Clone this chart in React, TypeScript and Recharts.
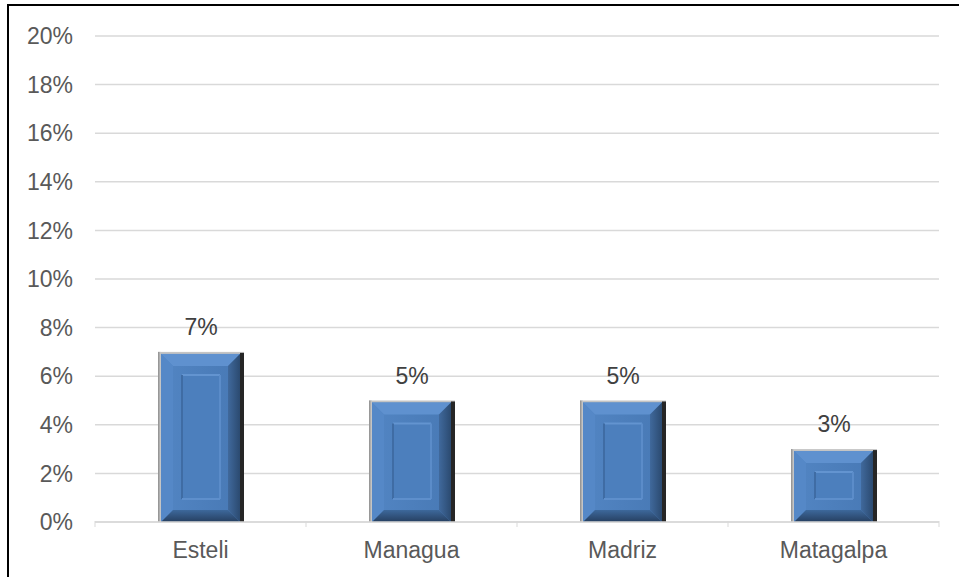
import React from "react";
import {
  BarChart,
  Bar,
  XAxis,
  YAxis,
  CartesianGrid,
  LabelList,
} from "recharts";

const departments = ["Esteli", "Managua", "Madriz", "Matagalpa"];
const shares = [7, 5, 5, 3];
const yTicks = [0, 2, 4, 6, 8, 10, 12, 14, 16, 18, 20];

const data = departments.map((name, i) => ({ name, value: shares[i] }));

const FONT = '"Liberation Sans", Arial, sans-serif';
const CHART_W = 959;
const CHART_H = 577;
const MARGIN = { top: 36, right: 20, bottom: 25, left: 8 };
const Y_AXIS_W = 87;
const BAND =
  (CHART_W - MARGIN.left - MARGIN.right - Y_AXIS_W) / departments.length;

// bevelled "picture frame" bar
const BevelBar = (props: any) => {
  const { x, y, width, height, index } = props;
  if (!height || height <= 0) return null;
  const gid = `bev-${index}`;
  const bx = x + 3;
  const by = y + 2;
  const bw = width - 7;
  const bh = height - 2;
  const b = 12;
  const ins = 24;
  const px = x + ins;
  const py = y + 23;
  const pw = width - ins * 2;
  const ph = Math.max(height - 46, 0);
  return (
    <g>
      <defs>
        <linearGradient id={`${gid}-body`} x1="0" y1="0" x2="1" y2="0">
          <stop offset="0" stopColor="#5285c3" />
          <stop offset="1" stopColor="#4879b5" />
        </linearGradient>
        <linearGradient id={`${gid}-edge`} x1="0" y1="0" x2="1" y2="0">
          <stop offset="0" stopColor="#8c8c8c" />
          <stop offset="1" stopColor="#d0d0d0" />
        </linearGradient>
        <linearGradient id={`${gid}-bot`} x1="0" y1="0" x2="0" y2="1">
          <stop offset="0" stopColor="#3d689b" />
          <stop offset="1" stopColor="#263f60" />
        </linearGradient>
        <linearGradient id={`${gid}-right`} x1="0" y1="0" x2="1" y2="0">
          <stop offset="0" stopColor="#40699c" />
          <stop offset="1" stopColor="#2b4a70" />
        </linearGradient>
      </defs>
      {/* grey left/top edge */}
      <rect x={x} y={y} width={width} height={height} fill="#c4c4c4" />
      <rect x={x} y={y} width={3} height={height} fill={`url(#${gid}-edge)`} />
      {/* dark right side */}
      <rect x={x + width - 4} y={y + 1} width={4} height={height - 1} fill="#262626" />
      <rect x={bx} y={by} width={bw} height={bh} fill={`url(#${gid}-body)`} />
      {/* bevels */}
      <polygon
        points={`${bx},${by} ${bx + bw},${by} ${bx + bw - b},${by + b} ${bx + b},${by + b}`}
        fill="#5f91cf"
      />
      <polygon
        points={`${bx},${by} ${bx + b},${by + b} ${bx + b},${by + bh - b} ${bx},${by + bh}`}
        fill="#5588c7"
      />
      <polygon
        points={`${bx + bw},${by} ${bx + bw},${by + bh} ${bx + bw - b},${by + bh - b} ${bx + bw - b},${by + b}`}
        fill={`url(#${gid}-right)`}
      />
      <polygon
        points={`${bx},${by + bh} ${bx + bw},${by + bh} ${bx + bw - b},${by + bh - b} ${bx + b},${by + bh - b}`}
        fill={`url(#${gid}-bot)`}
      />
      {/* inner panel */}
      {ph > 0 && (
        <g>
          <rect x={px} y={py} width={pw} height={ph} fill="#4c7fbd" />
          <line x1={px} y1={py} x2={px + pw} y2={py} stroke="#6394d0" strokeWidth={2} />
          <line x1={px} y1={py} x2={px} y2={py + ph} stroke="#3f6ca4" strokeWidth={2} />
          <line x1={px + pw} y1={py} x2={px + pw} y2={py + ph} stroke="#5b8cc9" strokeWidth={2} />
          <line x1={px} y1={py + ph} x2={px + pw} y2={py + ph} stroke="#5e8fcc" strokeWidth={2} />
        </g>
      )}
    </g>
  );
};

// category label with boundary tick marks
const CategoryTick = (props: any) => {
  const { x, y, payload, index } = props;
  const top = y - 21;
  return (
    <g>
      <line x1={x - BAND / 2} y1={top} x2={x - BAND / 2} y2={top + 6} stroke="#d9d9d9" />
      {index === departments.length - 1 && (
        <line x1={x + BAND / 2} y1={top} x2={x + BAND / 2} y2={top + 6} stroke="#d9d9d9" />
      )}
      <text
        x={x}
        y={y}
        dy="0.71em"
        textAnchor="middle"
        fill="#595959"
        fontSize={23}
        fontFamily={FONT}
      >
        {payload.value}
      </text>
    </g>
  );
};

export default function App() {
  return (
    <div style={{ position: "absolute", left: 0, top: 0, width: CHART_W, height: CHART_H, overflow: "hidden", background: "#fff" }}>
      <div
        style={{
          position: "absolute",
          left: 7,
          top: 4,
          width: 1000,
          height: 700,
          border: "2px solid #000",
        }}
      />
      <div style={{ position: "absolute", left: 0, top: 0 }}>
        <BarChart width={CHART_W} height={CHART_H} data={data} margin={MARGIN}>
          <CartesianGrid vertical={false} stroke="#d9d9d9" strokeWidth={1.5} />
          <XAxis
            dataKey="name"
            axisLine={{ stroke: "#d9d9d9", strokeWidth: 1.5 }}
            tickLine={false}
            tickSize={6}
            tickMargin={14}
            height={30}
            tick={<CategoryTick />}
          />
          <YAxis
            width={Y_AXIS_W}
            domain={[0, 20]}
            ticks={yTicks}
            tickFormatter={(v: number) => `${v}%`}
            axisLine={false}
            tickLine={false}
            tickSize={0}
            tickMargin={22}
            tick={{ fill: "#595959", fontSize: 23, fontFamily: FONT }}
          />
          <Bar dataKey="value" barSize={86} shape={<BevelBar />} isAnimationActive={false}>
            <LabelList
              dataKey="value"
              position="top"
              offset={17}
              formatter={(v: any) => `${v}%`}
              fill="#404040"
              fontSize={23}
              fontFamily={FONT}
            />
          </Bar>
        </BarChart>
      </div>
    </div>
  );
}
